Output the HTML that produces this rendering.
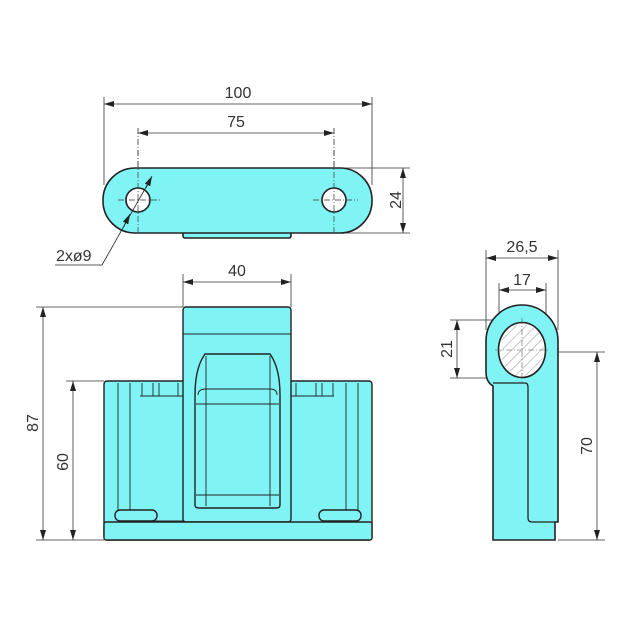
<!DOCTYPE html>
<html><head><meta charset="utf-8"><style>
html,body{margin:0;padding:0;background:#fff}
text{font-family:"Liberation Sans",sans-serif;font-size:16px;fill:#333}
</style></head><body>
<svg width="640" height="628" viewBox="0 0 640 628" xmlns="http://www.w3.org/2000/svg">
<defs>
<marker id="a" viewBox="0 0 10 6" refX="10" refY="3" markerWidth="10" markerHeight="6" orient="auto-start-reverse" markerUnits="userSpaceOnUse"><path d="M0,0L10,3L0,6z" fill="#222"/></marker>
<pattern id="h" width="7" height="7" patternUnits="userSpaceOnUse" patternTransform="rotate(45)"><line x1="0" y1="0" x2="0" y2="7" stroke="#777" stroke-width="0.8"/></pattern>
</defs>
<g stroke="#333" stroke-width="0.8" fill="none">
<!-- top view dims -->
<line x1="104" y1="97" x2="104" y2="185"/><line x1="372" y1="97" x2="372" y2="185"/>
<line x1="104" y1="104" x2="372" y2="104" marker-start="url(#a)" marker-end="url(#a)"/>
<line x1="138" y1="128" x2="138" y2="232" stroke-dasharray="6,2,1,2"/><line x1="334" y1="128" x2="334" y2="232" stroke-dasharray="6,2,1,2"/>
<line x1="138" y1="133" x2="334" y2="133" marker-start="url(#a)" marker-end="url(#a)"/>
<line x1="340" y1="168" x2="410" y2="168"/><line x1="340" y1="233" x2="410" y2="233"/>
<line x1="403" y1="168" x2="403" y2="233" marker-start="url(#a)" marker-end="url(#a)"/>
<!-- front dims -->
<line x1="183" y1="274" x2="183" y2="307"/><line x1="291" y1="274" x2="291" y2="307"/>
<line x1="183" y1="282" x2="291" y2="282" marker-start="url(#a)" marker-end="url(#a)"/>
<line x1="36" y1="307" x2="183" y2="307"/><line x1="36" y1="540" x2="104" y2="540"/>
<line x1="43" y1="307" x2="43" y2="540" marker-start="url(#a)" marker-end="url(#a)"/>
<line x1="66" y1="381" x2="104" y2="381"/>
<line x1="73" y1="381" x2="73" y2="540" marker-start="url(#a)" marker-end="url(#a)"/>
<!-- side dims -->
<line x1="486" y1="250" x2="486" y2="330"/><line x1="558" y1="250" x2="558" y2="330"/>
<line x1="486" y1="258" x2="558" y2="258" marker-start="url(#a)" marker-end="url(#a)"/>
<line x1="499" y1="283" x2="499" y2="350"/><line x1="546" y1="283" x2="546" y2="350"/>
<line x1="499" y1="290" x2="546" y2="290" marker-start="url(#a)" marker-end="url(#a)"/>
<line x1="450" y1="320" x2="522" y2="320"/><line x1="450" y1="378" x2="500" y2="378"/>
<line x1="457" y1="320" x2="457" y2="378" marker-start="url(#a)" marker-end="url(#a)"/>
<line x1="500" y1="352" x2="605" y2="352"/><line x1="558" y1="540" x2="605" y2="540"/>
<line x1="597" y1="352" x2="597" y2="540" marker-start="url(#a)" marker-end="url(#a)"/>
</g>
<!-- top view part -->
<g stroke="#222" stroke-width="1.6" fill="#80f4f4">
<rect x="183" y="228" width="108" height="10" rx="2"/>
<rect x="103" y="168" width="269" height="65" rx="32"/>
<circle cx="138" cy="200" r="12" fill="#fff"/><circle cx="334" cy="200" r="12" fill="#fff"/>
</g>
<g stroke="#333" stroke-width="0.7" stroke-dasharray="6,2,1,2" fill="none">
<line x1="118" y1="200" x2="162" y2="200"/><line x1="313" y1="200" x2="358" y2="200"/>
<line x1="138" y1="150" x2="138" y2="232"/><line x1="334" y1="150" x2="334" y2="232"/>
</g>
<g stroke="#222" stroke-width="0.8" fill="none">
<line x1="150" y1="180" x2="102" y2="265" />
<line x1="152" y1="176" x2="146" y2="188" marker-start="url(#a)"/>
<line x1="123" y1="228" x2="130" y2="214" marker-end="url(#a)"/>
<line x1="102" y1="265" x2="55" y2="265"/>
</g>
<text x="56" y="261">2xø9</text>
<text x="238" y="98" text-anchor="middle">100</text>
<text x="236" y="127" text-anchor="middle">75</text>
<text x="401" y="200" text-anchor="middle" transform="rotate(-90 401 200)">24</text>
<text x="237" y="276" text-anchor="middle">40</text>
<text x="38" y="423" text-anchor="middle" transform="rotate(-90 38 423)">87</text>
<text x="68" y="462" text-anchor="middle" transform="rotate(-90 68 462)">60</text>
<text x="522" y="252" text-anchor="middle">26,5</text>
<text x="522" y="285" text-anchor="middle">17</text>
<text x="452" y="349" text-anchor="middle" transform="rotate(-90 452 349)">21</text>
<text x="592" y="446" text-anchor="middle" transform="rotate(-90 592 446)">70</text>
<!-- front view -->
<g stroke="#222" stroke-width="1.4" fill="#80f4f4">
<rect x="104" y="381" width="268" height="159" rx="3"/>
<rect x="183" y="307" width="108" height="215" rx="3"/>
<rect x="104" y="522" width="268" height="18" rx="2"/>
<path d="M205,354 L270,354 Q280,368 280,395 L280,505 Q280,508 276,508 L199,508 Q195,508 195,505 L195,395 Q195,368 205,354 Z"/>
<rect x="115" y="510" width="42" height="11" rx="5"/><rect x="319" y="510" width="42" height="11" rx="5"/>
</g>
<g stroke="#222" stroke-width="0.9" fill="none">
<line x1="183" y1="334" x2="291" y2="334"/>
<line x1="118" y1="383" x2="118" y2="510"/><line x1="130" y1="383" x2="130" y2="510"/>
<line x1="358" y1="383" x2="358" y2="510"/><line x1="346" y1="383" x2="346" y2="510"/>
<line x1="140" y1="396" x2="183" y2="396"/><line x1="291" y1="396" x2="334" y2="396"/>
<line x1="142" y1="383" x2="142" y2="396"/><line x1="153" y1="383" x2="153" y2="396"/><line x1="159" y1="383" x2="159" y2="396"/><line x1="178" y1="383" x2="178" y2="396"/>
<line x1="296" y1="383" x2="296" y2="396"/><line x1="316" y1="383" x2="316" y2="396"/><line x1="322" y1="383" x2="322" y2="396"/><line x1="333" y1="383" x2="333" y2="396"/>
<path d="M198,395 Q198,389 206,389 L270,389 Q277,389 277,395"/>
<line x1="196" y1="404" x2="279" y2="404"/><line x1="196" y1="495" x2="279" y2="495"/>
<line x1="206" y1="356" x2="206" y2="506"/><line x1="270" y1="356" x2="270" y2="506"/>
<line x1="140" y1="521" x2="183" y2="521"/>
</g>
<!-- side view -->
<g stroke="#222" stroke-width="1.6" fill="#80f4f4">
<path d="M493,540 L493,386 Q486,382 486,372 L486,341 A36,36 0 0 1 558,341 L558,522 L555,522 L555,540 Z"/>
</g>
<path d="M493,383 L525,383 Q528,383 528,387 L528,518 Q528,522 532,522 L555,522" stroke="#222" stroke-width="1.3" fill="none"/>
<ellipse cx="522" cy="350" rx="23.5" ry="27.5" fill="#fff" stroke="#222" stroke-width="1.6"/>
<ellipse cx="522" cy="350" rx="22" ry="26" fill="url(#h)"/>
<g stroke="#555" stroke-width="0.6" stroke-dasharray="6,2,1,2"><line x1="495" y1="350" x2="550" y2="350"/><line x1="522" y1="318" x2="522" y2="382"/></g>
</svg>
</body></html>
